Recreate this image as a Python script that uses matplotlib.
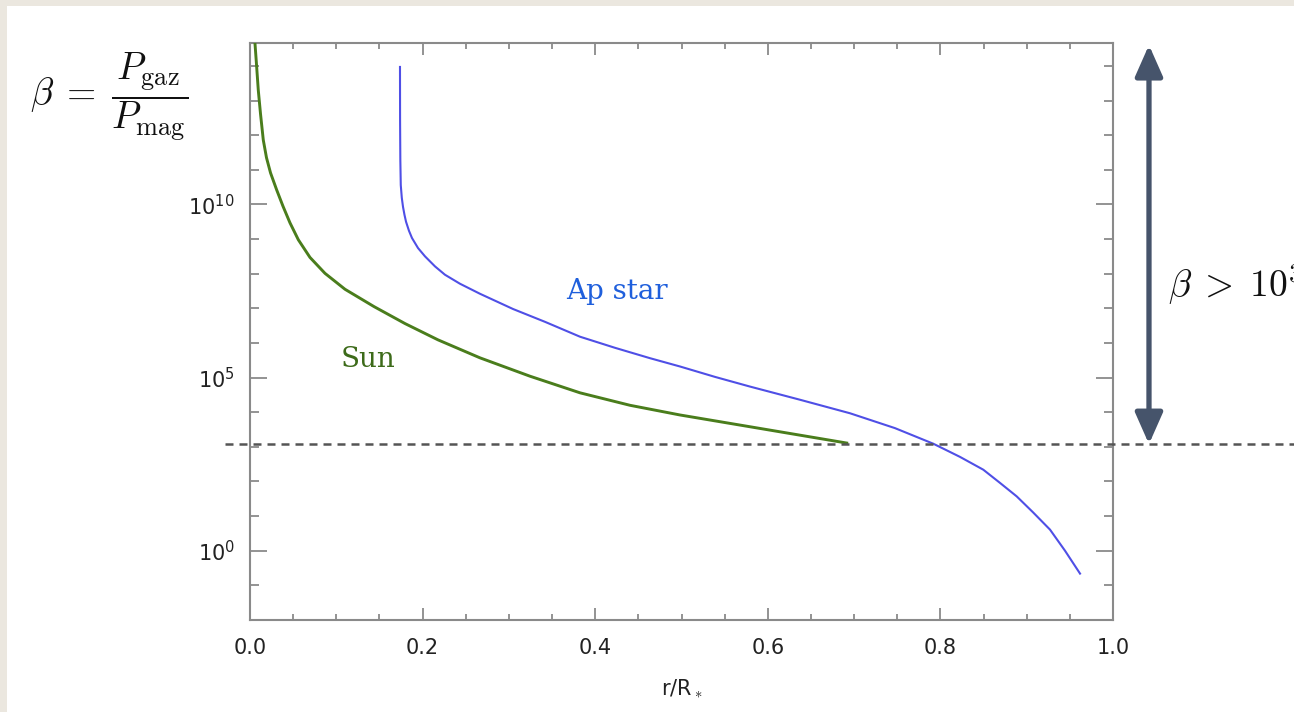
import matplotlib
matplotlib.use("Agg")
import matplotlib.pyplot as plt
import matplotlib.ticker as mticker
import matplotlib.transforms as mtrans
from matplotlib.patches import Rectangle
import numpy as np

# ---- data ----
sun_r = [0.0052, 0.0075, 0.0096, 0.0122, 0.0154, 0.0191, 0.0238, 0.0309, 0.0382, 0.0463,
         0.0560, 0.0695, 0.0869, 0.1101, 0.1437, 0.1796, 0.2178, 0.2665, 0.3244, 0.3824,
         0.4403, 0.4983, 0.5794, 0.6914]
sun_logbeta = [14.85, 14.05, 13.30, 12.61, 11.86, 11.35, 10.91, 10.42, 9.95, 9.47,
               8.98, 8.47, 8.01, 7.55, 7.05, 6.56, 6.09, 5.57, 5.04, 4.56,
               4.20, 3.92, 3.58, 3.11]

ap_r = [0.1738, 0.1739, 0.1742, 0.1747, 0.1759, 0.1773, 0.1790, 0.1808, 0.1842, 0.1877,
        0.1947, 0.2028, 0.2144, 0.2259, 0.2433, 0.2665, 0.3048, 0.3418, 0.3824, 0.4229,
        0.4635, 0.4983, 0.5388, 0.5794, 0.6373, 0.6952, 0.7474, 0.7918, 0.8227, 0.8497,
        0.8690, 0.8884, 0.9073, 0.9270, 0.9444, 0.9618]
ap_logbeta = [13.97, 12.44, 11.28, 10.56, 10.19, 9.93, 9.70, 9.50, 9.24, 9.03,
              8.74, 8.50, 8.21, 7.97, 7.71, 7.42, 6.98, 6.61, 6.18, 5.86,
              5.56, 5.32, 5.02, 4.74, 4.36, 3.97, 3.54, 3.09, 2.71, 2.34,
              1.96, 1.57, 1.11, 0.61, 0.00, -0.66]

beta_threshold = 1.2e3
x_ticks = [0.0, 0.2, 0.4, 0.6, 0.8, 1.0]
y_major = [1e0, 1e5, 1e10]

sun_beta = [10 ** v for v in sun_logbeta]
ap_beta = [10 ** v for v in ap_logbeta]

plt.rcParams["mathtext.fontset"] = "cm"

W, H = 1294, 712
fig = plt.figure(figsize=(W / 100, H / 100), dpi=100)
fig.patch.set_facecolor("#ebe7df")
fig.patches.append(Rectangle((7 / W, 0), 1, 1 - 6 / H, transform=fig.transFigure,
                             facecolor="white", edgecolor="none", zorder=-10))

ax = fig.add_axes([250 / W, 1 - 620 / H, (1113 - 250) / W, (620 - 42.7) / H])
ax.set_facecolor("white")
ax.set_yscale("log")
ax.set_xlim(0, 1.0)
ax.set_ylim(1e-2, 10 ** 14.67)

ax.plot(sun_r, sun_beta, color="#4a7d1c", lw=2.1, solid_joinstyle="round", zorder=3)
ax.plot(ap_r, ap_beta, color="#4f4fe6", lw=1.5, solid_joinstyle="round", zorder=3)

spine_c = "#8a8a8a"
for s in ax.spines.values():
    s.set_color(spine_c)
    s.set_linewidth(1.5)

ax.xaxis.set_major_locator(mticker.FixedLocator(x_ticks))
ax.xaxis.set_minor_locator(mticker.MultipleLocator(0.05))
ax.xaxis.set_major_formatter(mticker.FormatStrFormatter("%.1f"))
ax.yaxis.set_major_locator(mticker.FixedLocator(y_major))
ax.yaxis.set_minor_locator(mticker.FixedLocator([10.0 ** k for k in range(-2, 15)]))
ax.yaxis.set_major_formatter(mticker.FuncFormatter(
    lambda v, p: r"$\mathdefault{10^{%d}}$" % int(round(np.log10(v)))))
ax.yaxis.set_minor_formatter(mticker.NullFormatter())

ax.tick_params(which="both", direction="in", top=True, right=True, color=spine_c, width=1.3,
               labelcolor="#222222", labelsize=15)
ax.tick_params(axis="x", which="major", length=8.3, pad=13)
ax.tick_params(axis="x", which="minor", length=4.2)
ax.tick_params(axis="y", which="major", length=12.3, pad=11)
ax.tick_params(axis="y", which="minor", length=6.3)
ax.set_xlabel("r/R$_*$", fontsize=15, color="#222222", labelpad=14)

# dashed threshold line (extends beyond the axes)
bt = mtrans.blended_transform_factory(ax.transAxes, ax.transData)
ax.plot([-0.029, 1.25], [beta_threshold, beta_threshold], transform=bt, clip_on=False,
        color="#555555", lw=1.8, linestyle=(0, (3.2, 2.4)), zorder=4)

# double arrow
ax.annotate("", xy=(1.0417, 0.996), xycoords=ax.transAxes,
            xytext=(1.0417, beta_threshold), textcoords=bt,
            arrowprops=dict(arrowstyle="<|-|>,head_length=0.95,head_width=0.42",
                            mutation_scale=20, color="#46546b", lw=3.8,
                            shrinkA=0, shrinkB=0),
            annotation_clip=False)

# labels
ax.text(0.425, 10 ** 7.5, "Ap star", color="#1f5fdc", fontsize=20,
        family="DejaVu Serif", ha="center", va="center")
ax.text(0.1367, 10 ** 5.51, "Sun", color="#3d6b1a", fontsize=20,
        family="DejaVu Serif", ha="center", va="center")

fig.text(30 / W, 1 - 97 / H, r"$\beta\;=\;\dfrac{P_{\rm gaz}}{P_{\rm mag}}$", fontsize=27,
         ha="left", va="center", color="#111111")
fig.text(1168 / W, 1 - 285 / H, r"$\beta\;>\;10^3$", fontsize=27, ha="left", va="center",
         color="#111111")

fig.savefig("out.png", dpi=100)
